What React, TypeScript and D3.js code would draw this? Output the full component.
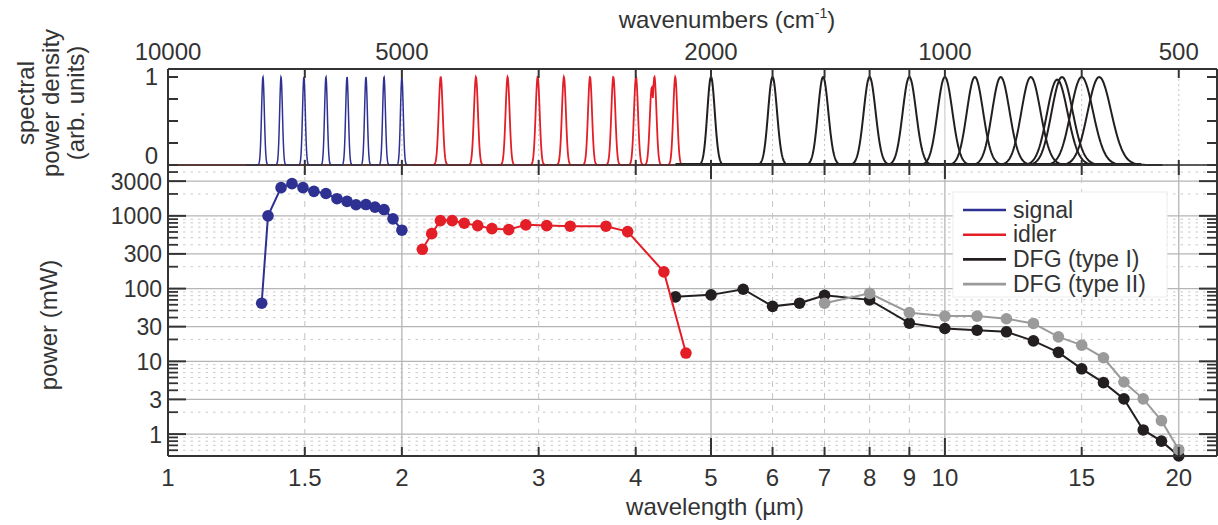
import React from 'react';
import * as d3 from 'd3';

// ---- data ----
const signalWavelength = [1.32, 1.345, 1.398, 1.444, 1.492, 1.541, 1.597, 1.65, 1.70, 1.746, 1.798, 1.847, 1.897, 1.948, 2.0];
const signalPower = [63, 1000, 2440, 2770, 2440, 2170, 2030, 1720, 1580, 1420, 1430, 1320, 1220, 910, 635];

const idlerWavelength = [2.125, 2.185, 2.242, 2.322, 2.406, 2.504, 2.612, 2.745, 2.888, 3.072, 3.294, 3.662, 3.905, 4.348, 4.642];
const idlerPower = [347, 569, 861, 861, 793, 734, 667, 647, 752, 734, 721, 721, 607, 170, 13];

const dfg1Wavelength = [4.5, 5, 5.5, 6, 6.5, 7, 8, 9, 10, 11, 12, 13, 14, 15, 16, 17, 18, 19, 20];
const dfg1Power = [77, 82, 98, 57, 63, 81, 70, 33.5, 28.3, 26.8, 25.5, 19.1, 13.3, 7.9, 5.1, 3.05, 1.14, 0.8, 0.5];

const dfg2Wavelength = [7, 8, 9, 10, 11, 12, 13, 14, 15, 16, 17, 18, 19, 20];
const dfg2Power = [63, 86, 46.7, 41.9, 41.9, 38.5, 33.2, 21.7, 16.7, 11.2, 5.2, 3.05, 1.53, 0.61];

// spectral peak centres (µm) and heights (arb. units)
const signalPeaks = [1.325, 1.398, 1.496, 1.597, 1.70, 1.798, 1.897, 2.0];
const idlerPeaks = [2.244, 2.491, 2.736, 2.991, 3.233, 3.493, 3.743, 4.003, 4.195, 4.228, 4.497];
const idlerPeakHeights = [1, 1, 1, 1, 1, 1, 1, 1, 0.88, 1, 1];
const dfgPeaks = [5.0, 6.0, 6.97, 8.0, 9.0, 10.0, 10.93, 11.8, 12.9, 13.95, 14.15, 15.0, 15.8];
const dfgPeakHeights = [1, 1, 1, 1, 1, 1, 1, 1, 1, 0.97, 1, 1, 1];

// axis ticks
const wavelengthTicks = [1, 1.5, 2, 3, 4, 5, 6, 7, 8, 9, 10, 15, 20];
const solidWavelengthGrid = [2, 5, 10, 20];
const longWavelengthTicks = [5, 10];
const wavenumberLabels = [10000, 5000, 2000, 1000, 500];
const powerTicks = [1, 3, 10, 30, 100, 300, 1000, 3000];
const densityTicks = [0.25, 0.5, 0.75, 1];

const legendItems = [
  { label: 'signal', color: '#2e3192' },
  { label: 'idler', color: '#e41e26' },
  { label: 'DFG (type I)', color: '#231f20' },
  { label: 'DFG (type II)', color: '#9a9a9a' },
];

// ---- layout ----
const W = 1218, H = 525;
const L = 168, R = 1217, T = 69, MID = 165, B = 456;
const FONT = "'Liberation Sans', Arial, Helvetica, sans-serif";
const TXT = '#333';
const AX = '#333';

const x = d3.scaleLog().domain([1, 22.4]).range([L, R]);
const yTop = d3.scaleLinear().domain([0, 1]).range([MID, 77]);
const yBot = d3.scaleLog().domain([0.5, 5000]).range([B, MID]);

const minorPower: number[] = [];
for (const dec of [0.1, 1, 10, 100, 1000]) {
  for (let k = 2; k <= 9; k++) {
    const v = dec * k;
    if (k !== 3 && v >= 0.5 && v <= 5000) minorPower.push(v);
  }
}

const line = d3.line<[number, number]>().x(d => d[0]).y(d => d[1]);

function logGaussSpectrum(peaks: number[], heights: number[] | null, from: number, to: number, sigmaPx: number) {
  const pts: [number, number][] = [];
  const sig = sigmaPx / (R - L) * Math.log10(22.4);
  const u0 = Math.log10(from), u1 = Math.log10(to);
  const step = sig / 6;
  for (let u = u0; u <= u1; u += step) {
    let v = 0;
    peaks.forEach((c, i) => {
      const d = u - Math.log10(c);
      v = Math.max(v, (heights ? heights[i] : 1) * Math.exp(-(d * d) / (2 * sig * sig)));
    });
    pts.push([x(Math.pow(10, u)), yTop(v)]);
  }
  return line(pts) || '';
}

function wavenumberPeak(c: number, h: number, sigma: number) {
  const nc = 1e4 / c;
  const pts: [number, number][] = [];
  for (let n = nc + 5 * sigma; n >= nc - 5 * sigma; n -= sigma / 12) {
    const d = n - nc;
    pts.push([x(1e4 / n), yTop(h * Math.exp(-(d * d) / (2 * sigma * sigma)))]);
  }
  return line(pts) || '';
}

function fmt(v: number) {
  return String(v);
}

const series = [
  { xs: dfg1Wavelength, ys: dfg1Power, color: '#231f20' },
  { xs: dfg2Wavelength, ys: dfg2Power, color: '#9a9a9a' },
  { xs: idlerWavelength, ys: idlerPower, color: '#e41e26' },
  { xs: signalWavelength, ys: signalPower, color: '#2e3192' },
];

export default function App() {
  return (
    <svg width={W} height={H} style={{ position: 'absolute', left: 0, top: 0, background: '#fff' }} fontFamily={FONT}>
      {/* ---------- bottom panel grid ---------- */}
      {minorPower.map(v => (
        <line key={'mp' + v} x1={L} x2={R} y1={yBot(v)} y2={yBot(v)} stroke="#c9c9c9" strokeWidth={1} strokeDasharray="2.5 5" />
      ))}
      {powerTicks.map(v => (
        <line key={'gp' + v} x1={L} x2={R} y1={yBot(v)} y2={yBot(v)} stroke="#b5b5b5" strokeWidth={1.3} />
      ))}
      {wavelengthTicks.filter(t => t > 1).map(t => (
        solidWavelengthGrid.includes(t) ? (
          <line key={'gw' + t} x1={x(t)} x2={x(t)} y1={MID} y2={B} stroke="#b5b5b5" strokeWidth={1.3} />
        ) : (
          <line key={'gw' + t} x1={x(t)} x2={x(t)} y1={MID} y2={B} stroke="#c4c4c4" strokeWidth={1} strokeDasharray="6 6" />
        )
      ))}
      {/* top panel vertical grid */}
      {wavelengthTicks.filter(t => t > 1).map(t => (
        <line key={'gt' + t} x1={x(t)} x2={x(t)} y1={T} y2={MID} stroke="#c4c4c4" strokeWidth={1}
          strokeDasharray={t === 10 ? undefined : '2 3'} />
      ))}

      {/* ---------- spectra ---------- */}
      <line x1={x(1)} x2={x(4.62)} y1={yTop(0)} y2={yTop(0)} stroke="#e41e26" strokeWidth={1.6} />
      <path d={logGaussSpectrum(idlerPeaks, idlerPeakHeights, 2.05, 4.62, 2.0)} fill="none" stroke="#e41e26" strokeWidth={1.8} />
      <path d={logGaussSpectrum(signalPeaks, null, 1.26, 2.04, 1.4)} fill="none" stroke="#2e3192" strokeWidth={1.5} />
      <line x1={x(4.5)} x2={x(17.9)} y1={yTop(0) - 0.5} y2={yTop(0) - 0.5} stroke="#231f20" strokeWidth={3} />
      {dfgPeaks.map((c, i) => (
        <path key={'dp' + i} d={wavenumberPeak(c, dfgPeakHeights[i], 22)} fill="none" stroke="#231f20" strokeWidth={2} />
      ))}

      {/* ---------- power series ---------- */}
      {series.map((s, si) => {
        const pts = s.xs.map((w, i) => [x(w), yBot(s.ys[i])] as [number, number]);
        return (
          <g key={'s' + si}>
            <path d={line(pts) || ''} fill="none" stroke={s.color} strokeWidth={2} />
            {pts.map((p, i) => (
              <circle key={i} cx={p[0]} cy={p[1]} r={5.8} fill={s.color} />
            ))}
          </g>
        );
      })}

      {/* ---------- legend ---------- */}
      <rect x={953} y={192} width={214} height={105} fill="#fff" stroke="#ececec" strokeWidth={1} />
      {legendItems.map((it, i) => {
        const yy = 210 + i * 24.7;
        return (
          <g key={it.label}>
            <line x1={963} x2={1006} y1={yy} y2={yy} stroke={it.color} strokeWidth={2.6} />
            <text x={1013} y={yy + 7.5} fontSize={23} fill={TXT}>{it.label}</text>
          </g>
        );
      })}

      {/* ---------- axes frame ---------- */}
      <g stroke={AX} strokeWidth={2} fill="none">
        <line x1={L} x2={R} y1={T} y2={T} />
        <line x1={L} x2={R} y1={MID} y2={MID} strokeOpacity={0.8} />
        <line x1={L} x2={R} y1={B} y2={B} />
        <line x1={L} x2={L} y1={T} y2={B} />
        <line x1={R} x2={R} y1={T} y2={B} />
      </g>

      {/* ticks */}
      <g stroke={AX} strokeWidth={2}>
        {wavelengthTicks.map(t => (
          <g key={'tk' + t}>
            <line x1={x(t)} x2={x(t)} y1={T} y2={T + 9} />
            <line x1={x(t)} x2={x(t)} y1={MID - 5} y2={MID + (longWavelengthTicks.includes(t) ? 14 : 10)} />
            <line x1={x(t)} x2={x(t)} y1={B} y2={B - (longWavelengthTicks.includes(t) ? 18 : 9)} />
          </g>
        ))}
        {densityTicks.map(v => (
          <g key={'dt' + v}>
            <line x1={L} x2={L + 10} y1={yTop(v)} y2={yTop(v)} />
            <line x1={R} x2={R - 10} y1={yTop(v)} y2={yTop(v)} />
          </g>
        ))}
        {powerTicks.map(v => (
          <g key={'pt' + v}>
            <line x1={L} x2={L + 18} y1={yBot(v)} y2={yBot(v)} />
            <line x1={R} x2={R - 18} y1={yBot(v)} y2={yBot(v)} />
          </g>
        ))}
        {minorPower.map(v => (
          <g key={'pm' + v}>
            <line x1={L} x2={L + 10} y1={yBot(v)} y2={yBot(v)} strokeWidth={1.8} />
            <line x1={R} x2={R - 10} y1={yBot(v)} y2={yBot(v)} strokeWidth={1.8} />
          </g>
        ))}
      </g>

      {/* ---------- tick labels ---------- */}
      <g fontSize={24} fill={TXT}>
        {wavelengthTicks.map(t => (
          <text key={'wl' + t} x={x(t)} y={486} textAnchor="middle">{fmt(t)}</text>
        ))}
        {wavenumberLabels.map(n => (
          <text key={'wn' + n} x={x(1e4 / n)} y={60} textAnchor="middle">{fmt(n)}</text>
        ))}
        <text x={158} y={85} textAnchor="end">1</text>
        <text x={158} y={164} textAnchor="end">0</text>
      </g>
      <g fontSize={23} fill={TXT}>
        {powerTicks.map(v => (
          <text key={'pl' + v} x={162} y={yBot(v) + 8.5} textAnchor="end">{fmt(v)}</text>
        ))}
      </g>

      {/* ---------- axis titles ---------- */}
      <g fontSize={24} fill={TXT}>
        <text x={715} y={515} textAnchor="middle">wavelength (µm)</text>
        <text x={727} y={28} textAnchor="middle">
          wavenumbers (cm<tspan fontSize={14} dy={-10}>-1</tspan><tspan dy={10}>)</tspan>
        </text>
        <text transform="translate(34,103) rotate(-90)" textAnchor="middle">spectral</text>
        <text transform="translate(59,103) rotate(-90)" textAnchor="middle">power density</text>
        <text transform="translate(84,103) rotate(-90)" textAnchor="middle">(arb. units)</text>
        <text transform="translate(57,325) rotate(-90)" textAnchor="middle">power (mW)</text>
      </g>
    </svg>
  );
}
